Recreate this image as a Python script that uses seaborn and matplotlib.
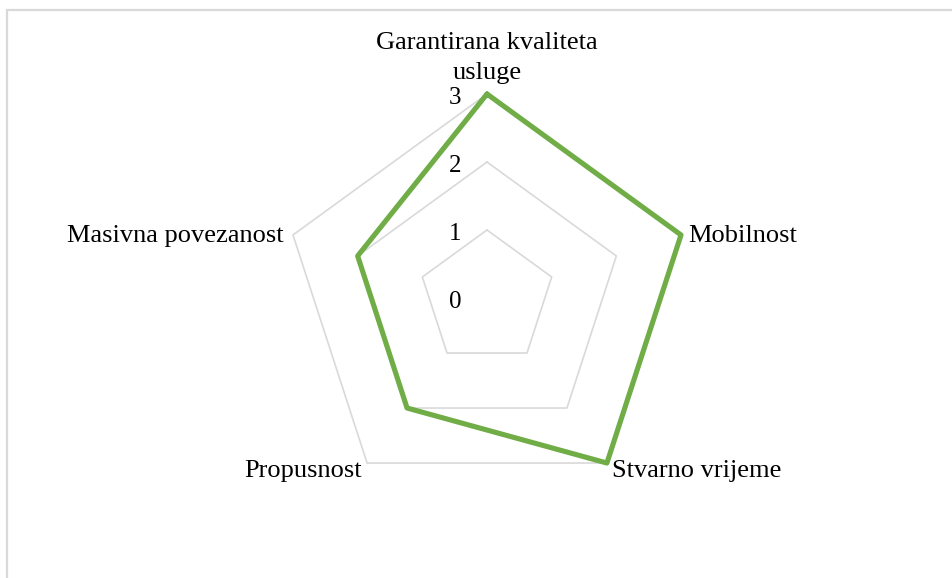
import numpy as np
import pandas as pd
import matplotlib
matplotlib.use("Agg")
import matplotlib.pyplot as plt
from matplotlib.patches import Rectangle
import seaborn as sns

# ---- data ----
categories = ["Garantirana kvaliteta\nusluge", "Mobilnost", "Stvarno vrijeme",
              "Propusnost", "Masivna povezanost"]
values = [3, 3, 3, 2, 2]
grid_levels = [1, 2, 3]
tick_labels = ["0", "1", "2", "3"]
tick_values = [0, 1, 2, 3]

sns.set_theme(style="white")
plt.rcParams["font.family"] = ["Liberation Serif", "DejaVu Serif"]

W, H, DPI = 953, 578, 100
fig = plt.figure(figsize=(W / DPI, H / DPI), dpi=DPI)
fig.patch.set_facecolor("white")

# outer chart frame (only left and top visible)
fig.patches.append(Rectangle((7.5 / W, -0.5), 2.0, 0.5 + 1 - 9.5 / H,
                             transform=fig.transFigure, fill=False,
                             edgecolor="#D9D9D9", linewidth=1.6, zorder=0))

cx, cy, R = 487 / W, 1 - 298 / H, 204
ax = fig.add_axes([cx - R / W, cy - R / H, 2 * R / W, 2 * R / H], polar=True)
ax.set_theta_offset(np.pi / 2)
ax.set_theta_direction(-1)
ax.set_ylim(0, 3)
ax.set_xticks([])
ax.set_yticks([])
ax.grid(False)
ax.spines["polar"].set_visible(False)
ax.set_facecolor("none")

n = len(categories)
angles = np.linspace(0, 2 * np.pi, n, endpoint=False)
closed_angles = np.append(angles, angles[0])

# pentagon gridlines
for lv in grid_levels:
    ax.plot(closed_angles, [lv] * (n + 1), color="#D9D9D9", lw=1.2,
            clip_on=False, zorder=1)

# data series
df = pd.DataFrame({"theta": closed_angles,
                   "value": values + [values[0]]})
sns.lineplot(data=df, x="theta", y="value", sort=False, estimator=None,
             color="#70AD47", lw=3.7, ax=ax, clip_on=False, zorder=3)
ax.set_xlabel("")
ax.set_ylabel("")
ax.set_ylim(0, 3)

# tick labels along top axis
for tv, tl in zip(tick_values, tick_labels):
    ax.annotate(tl, xy=(0, tv), xytext=(-32, -9.5), textcoords="offset pixels",
                ha="center", va="baseline", fontsize=18, color="black",
                annotation_clip=False)

# category labels
offsets = [(0, 10, "center", "bottom"),
           (7, -7, "left", "baseline"),
           (5, -14, "left", "baseline"),
           (-5, -14, "right", "baseline"),
           (-9, -7, "right", "baseline")]
for ang, lab, (dx, dy, ha, va) in zip(angles, categories, offsets):
    ax.annotate(lab, xy=(ang, 3), xytext=(dx, dy), textcoords="offset pixels",
                ha=ha, va=va, multialignment="center", fontsize=19,
                linespacing=1.45, color="black", annotation_clip=False)

fig.savefig("out.png", dpi=DPI)
